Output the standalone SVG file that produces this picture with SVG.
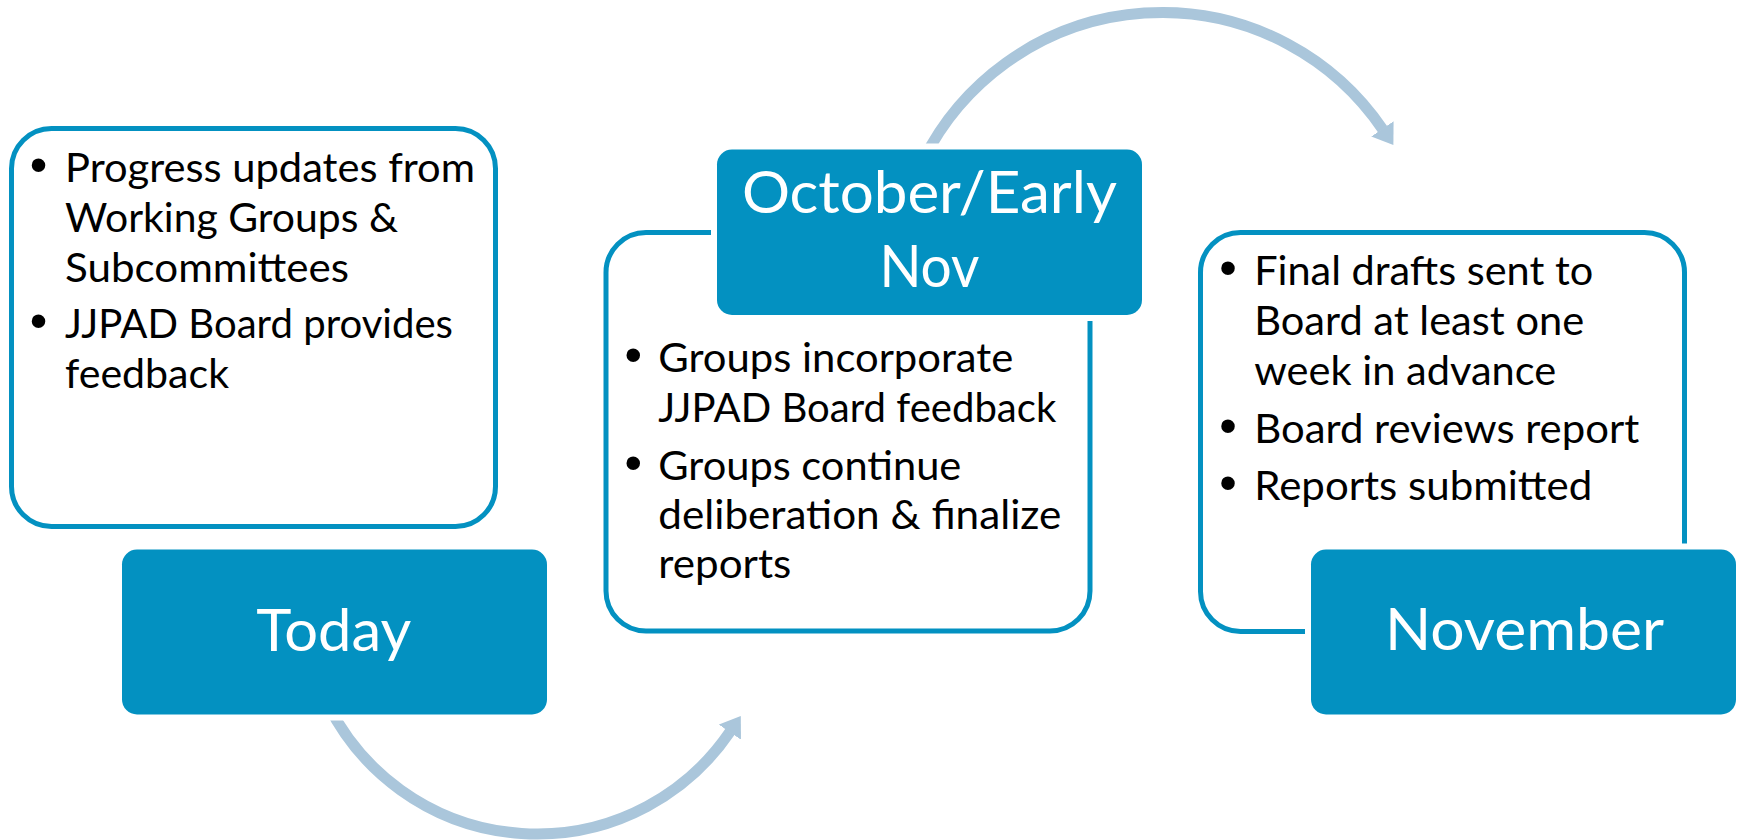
<svg xmlns="http://www.w3.org/2000/svg" width="1739" height="840" viewBox="0 0 1739 840">
  <style>
    .card { fill: #FFFFFF; stroke: #0391C1; stroke-width: 5; }
    .head { fill: #0391C1; stroke: #FFFFFF; stroke-width: 12; paint-order: stroke fill; }
    .arc { fill: none; stroke: #AAC6DB; stroke-width: 11; stroke-linecap: butt; }
    .body { font-family: Lato, "Liberation Sans", Arial, sans-serif; font-size: 40px; fill: #000000; }
    .bul { font-family: "Liberation Sans", Arial, sans-serif; font-size: 50px; fill: #000000; text-anchor: middle; }
    .title { font-family: Lato, "Liberation Sans", Arial, sans-serif; font-size: 58px; fill: #FFFFFF; text-anchor: middle; }
  </style>
  <defs>
    <marker id="ah" markerUnits="userSpaceOnUse" markerWidth="20" markerHeight="27" viewBox="0 0 20 27" refX="0.5" refY="13.5" orient="auto">
      <path d="M0,0 L19.5,13.5 L0,27 Z" fill="#AAC6DB"/>
    </marker>
  </defs>

  <g id="connectors">
    <path class="arc" d="M 328.2 705 A 233.5 233.5 0 0 0 730.1 731.7" marker-end="url(#ah)"/>
    <path class="arc" d="M 923.3 160 A 266.9 266.9 0 0 1 1382.7 129.3" marker-end="url(#ah)"/>
  </g>

  <g id="today-details">
    <rect class="card" x="11.5" y="128.5" width="484" height="398" rx="40"/>
    <text class="bul" x="38.5" y="181.7">•</text>
    <text class="body" x="65" y="181.7" textLength="410" lengthAdjust="spacingAndGlyphs">Progress updates from</text>
    <text class="body" x="65" y="231.7" textLength="333" lengthAdjust="spacingAndGlyphs">Working Groups &amp;</text>
    <text class="body" x="65" y="281.7" textLength="284" lengthAdjust="spacingAndGlyphs">Subcommittees</text>
    <text class="bul" x="38.5" y="338">•</text>
    <text class="body" x="65" y="338" textLength="388" lengthAdjust="spacingAndGlyphs">JJPAD Board provides</text>
    <text class="body" x="65" y="388" textLength="164" lengthAdjust="spacingAndGlyphs">feedback</text>
  </g>

  <g id="october-details">
    <rect class="card" x="606" y="232.5" width="484" height="398.5" rx="40"/>
    <text class="bul" x="633.3" y="371.7">•</text>
    <text class="body" x="658.3" y="371.7" textLength="355" lengthAdjust="spacingAndGlyphs">Groups incorporate</text>
    <text class="body" x="658.3" y="421.7" textLength="398" lengthAdjust="spacingAndGlyphs">JJPAD Board feedback</text>
    <text class="bul" x="633.3" y="480">•</text>
    <text class="body" x="658.3" y="480" textLength="303" lengthAdjust="spacingAndGlyphs">Groups continue</text>
    <text class="body" x="658.3" y="529.3" textLength="403" lengthAdjust="spacingAndGlyphs">deliberation &amp; finalize</text>
    <text class="body" x="658.3" y="578.3" textLength="133" lengthAdjust="spacingAndGlyphs">reports</text>
  </g>

  <g id="november-details">
    <rect class="card" x="1200.5" y="232.5" width="484" height="399" rx="40"/>
    <text class="bul" x="1228" y="285">•</text>
    <text class="body" x="1254.2" y="285" textLength="339" lengthAdjust="spacingAndGlyphs">Final drafts sent to</text>
    <text class="body" x="1254.2" y="335" textLength="330" lengthAdjust="spacingAndGlyphs">Board at least one</text>
    <text class="body" x="1254.2" y="385" textLength="302" lengthAdjust="spacingAndGlyphs">week in advance</text>
    <text class="bul" x="1228" y="442.7">•</text>
    <text class="body" x="1254.2" y="442.7" textLength="385" lengthAdjust="spacingAndGlyphs">Board reviews report</text>
    <text class="bul" x="1228" y="500">•</text>
    <text class="body" x="1254.2" y="500" textLength="338" lengthAdjust="spacingAndGlyphs">Reports submitted</text>
  </g>

  <g id="today">
    <rect class="head" x="122" y="549.5" width="425" height="165" rx="15"/>
    <text class="title" x="333.7" y="650.7" textLength="155" lengthAdjust="spacingAndGlyphs">Today</text>
  </g>

  <g id="october">
    <rect class="head" x="717" y="149.5" width="425" height="165.5" rx="15"/>
    <text class="title" x="929.4" y="213.3" textLength="375" lengthAdjust="spacingAndGlyphs">October/Early</text>
    <text class="title" x="929.4" y="286.7" textLength="100" lengthAdjust="spacingAndGlyphs">Nov</text>
  </g>

  <g id="november">
    <rect class="head" x="1311" y="549.5" width="425" height="165" rx="15"/>
    <text class="title" x="1524.5" y="650" textLength="279" lengthAdjust="spacingAndGlyphs">November</text>
  </g>
</svg>
